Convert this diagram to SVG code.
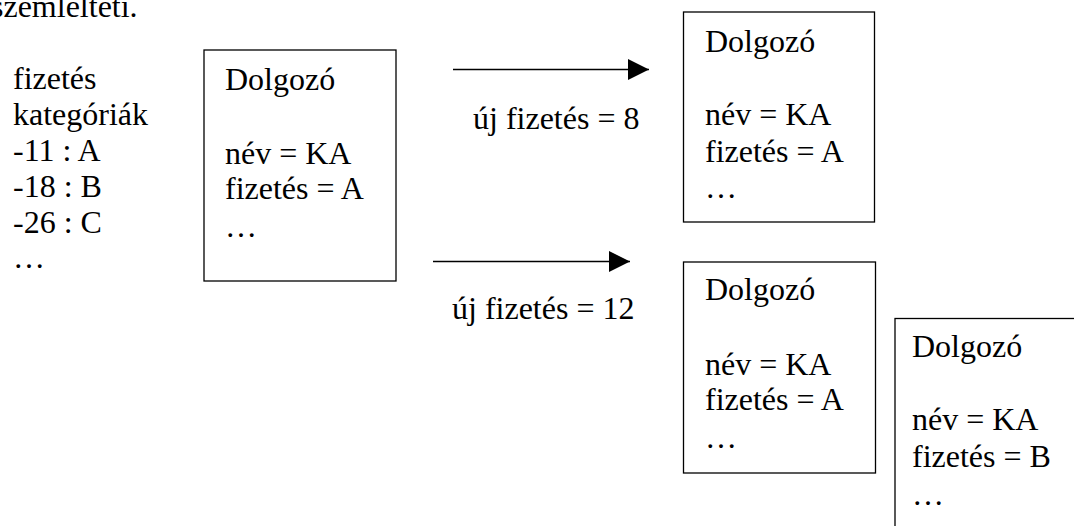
<svg xmlns="http://www.w3.org/2000/svg" width="1074" height="526" viewBox="0 0 1074 526">
<style>
text{font-family:"Liberation Serif","Times New Roman",serif;font-size:32px;fill:#000}
.box{fill:#fff;stroke:#000;stroke-width:1.3}
.conn{stroke:#000;stroke-width:1.3;fill:none}
</style>
<defs>
<marker id="ah" markerUnits="userSpaceOnUse" markerWidth="22" markerHeight="22" refX="21" refY="10.5" orient="auto">
<path d="M0,0 L21,10.5 L0,21 Z" fill="#000"/>
</marker>
</defs>
<rect width="1074" height="526" fill="#fff"/>
<text x="-9" y="17">szemléltetı.</text>
<g id="categories">
<text x="13" y="89">fizetés</text>
<text x="13" y="125">kategóriák</text>
<text x="13" y="161">-11 : A</text>
<text x="13" y="197">-18 : B</text>
<text x="13" y="233">-26 : C</text>
<text x="13" y="268">…</text>
</g>
<g id="node1">
<rect class="box" x="204" y="50" width="192" height="231"/>
<text x="225" y="90">Dolgozó</text>
<text x="225" y="164">név = KA</text>
<text x="225" y="199">fizetés = A</text>
<text x="225" y="237">…</text>
</g>
<g id="node2">
<rect class="box" x="683.5" y="12" width="191" height="210"/>
<text x="705" y="52">Dolgozó</text>
<text x="705" y="125">név = KA</text>
<text x="705" y="162">fizetés = A</text>
<text x="705" y="198">…</text>
</g>
<g id="node3">
<rect class="box" x="683.5" y="262" width="192" height="211"/>
<text x="705" y="300">Dolgozó</text>
<text x="705" y="375">név = KA</text>
<text x="705" y="410">fizetés = A</text>
<text x="705" y="448">…</text>
</g>
<g id="node4">
<rect class="box" x="895" y="318.5" width="200" height="230"/>
<text x="912" y="357">Dolgozó</text>
<text x="912" y="430">név = KA</text>
<text x="912" y="467">fizetés = B</text>
<text x="912" y="505">…</text>
</g>
<g id="connectors">
<line class="conn" x1="453" y1="69.5" x2="649" y2="69.5" marker-end="url(#ah)"/>
<line class="conn" x1="433" y1="261.5" x2="630" y2="261.5" marker-end="url(#ah)"/>
<text x="473" y="129">új fizetés = 8</text>
<text x="452" y="319">új fizetés = 12</text>
</g>
</svg>
